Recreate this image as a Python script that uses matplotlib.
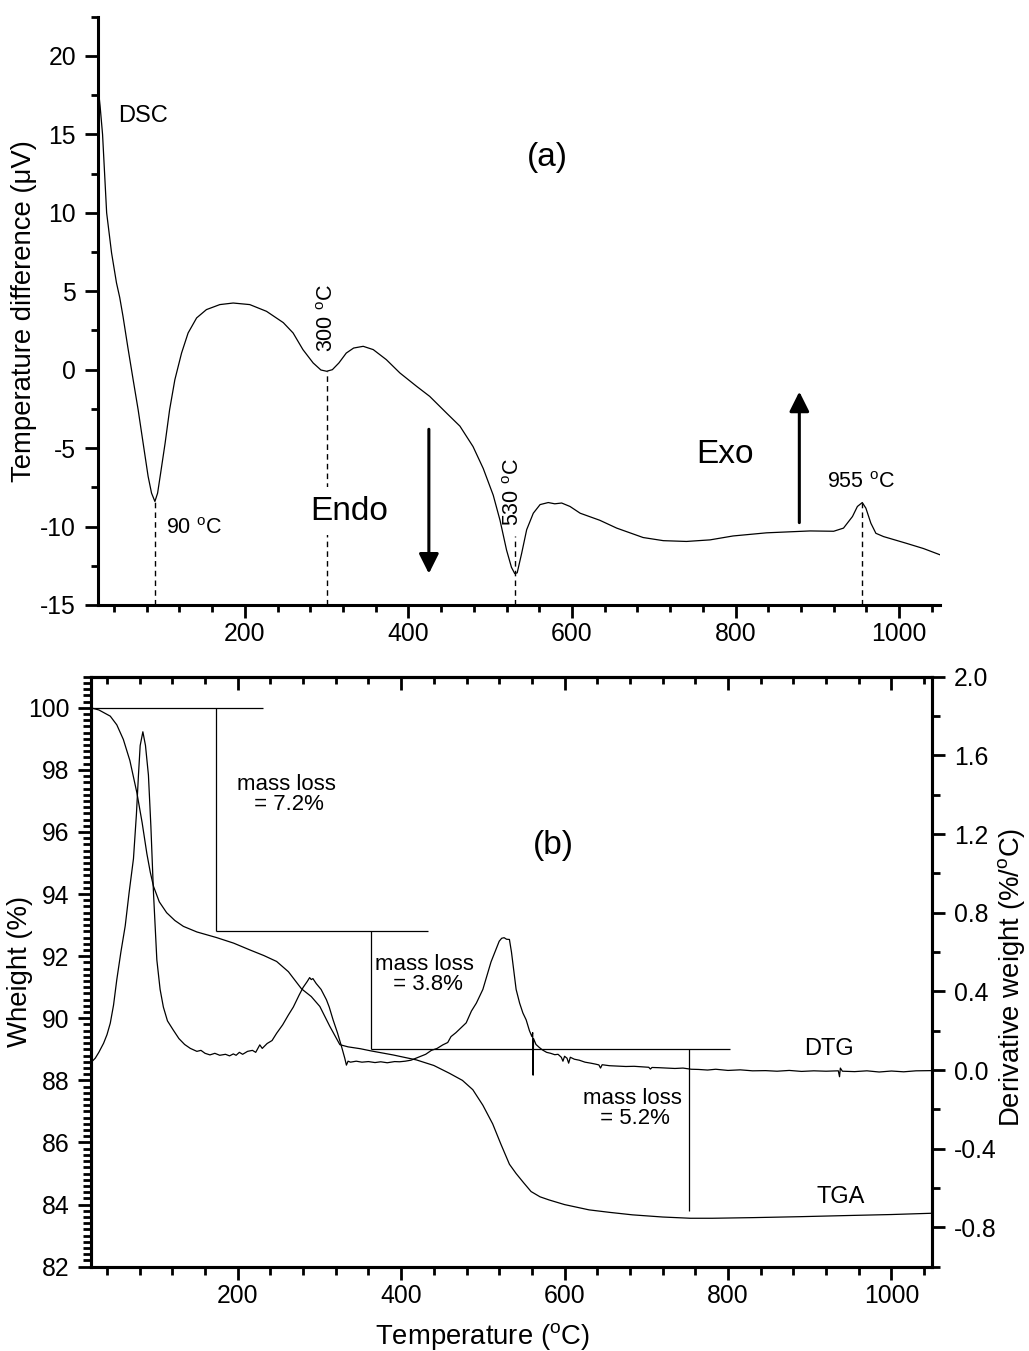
import matplotlib
matplotlib.use("Agg")
import matplotlib.pyplot as plt
from matplotlib.ticker import MultipleLocator, FixedLocator, FormatStrFormatter

plt.rcParams.update({
    "font.family": ["Liberation Sans", "DejaVu Sans"],
    "mathtext.fontset": "custom",
    "mathtext.rm": "Liberation Sans",
    "mathtext.it": "Liberation Sans",
    "mathtext.bf": "Liberation Sans",
    "mathtext.default": "regular",
    "axes.unicode_minus": False,
})

# ---------------- DSC curve (panel a) ----------------
dsc_T = [20, 23, 26, 31, 37, 43, 47, 51, 57, 63.4, 69.5, 75.6, 81.7, 85.9, 90, 93.3,
         97, 102.5, 108, 114.4, 122.6, 130.6, 141, 153, 169.4, 185.7, 206, 226.5,
         247, 259, 271, 283.5, 293, 300, 307, 315, 324, 333, 344.7, 357, 373, 389.6,
         410, 426, 446.7, 463, 479, 491.5, 503.7, 512, 520, 526, 530, 533, 538.5,
         544.6, 552.7, 561, 571, 579, 587.4, 597.6, 610, 626, 634, 654.7, 687, 711.7,
         740, 768.8, 797, 838, 891, 920, 932, 943, 949, 955, 959.4, 965.5, 971.6,
         981, 1009, 1029.7, 1050]
dsc_V = [18.3, 16.8, 15.0, 10.0, 7.45, 5.54, 4.6, 3.4, 1.4, -0.64, -2.55, -4.68, -6.8,
         -7.87, -8.4, -7.87, -6.6, -4.68, -2.55, -0.64, 1.06, 2.34, 3.3, 3.83, 4.15,
         4.25, 4.15, 3.72, 3.0, 2.34, 1.28, 0.43, -0.02, -0.1, 0.0, 0.43, 1.06, 1.38,
         1.49, 1.28, 0.64, -0.21, -1.06, -1.7, -2.77, -3.6, -4.9, -6.3, -8.0, -9.6,
         -11.5, -12.6, -13.0, -12.95, -11.7, -10.2, -9.15, -8.6, -8.47, -8.55, -8.5,
         -8.72, -9.15, -9.45, -9.6, -10.1, -10.7, -10.9, -10.95, -10.85, -10.6, -10.4,
         -10.28, -10.3, -10.1, -9.36, -8.72, -8.47, -8.83, -9.79, -10.43, -10.64,
         -11.07, -11.4, -11.8]

# characteristic temperatures and the top of each marker line
peak_T = [90, 300, 530, 955]
peak_top = [-8.4, -0.1, -10.6, -8.47]
peak_labels = ["90 $^{o}$C", "300 $^{o}$C", "530 $^{o}$C", "955 $^{o}$C"]

# ---------------- TGA curve (panel b, left axis) ----------------
tga_T = [20, 30, 44, 52, 60, 68, 76.6, 83, 88.8, 93, 96.9, 104, 113, 123, 133.5,
         150, 174, 195, 215, 232, 247.6, 262, 278, 290, 300.5, 312.7, 325, 335, 350,
         363, 390, 418.6, 440, 459, 475, 487.7, 500, 512, 522, 532.5, 540.7, 550,
         559, 570, 581, 600, 630, 655, 683, 720, 754, 781, 830, 887, 950, 1000, 1048]
tga_W = [100, 99.93, 99.73, 99.45, 98.98, 98.3, 97.26, 96.3, 95.3, 94.7, 94.25,
         93.75, 93.4, 93.15, 92.96, 92.78, 92.6, 92.42, 92.2, 92.02, 91.83, 91.5,
         90.95, 90.7, 90.38, 89.74, 89.15, 89.08, 89.02, 88.95, 88.82, 88.66, 88.48,
         88.23, 88.0, 87.7, 87.2, 86.6, 85.95, 85.3, 85.0, 84.7, 84.42, 84.25, 84.15,
         84.0, 83.83, 83.75, 83.67, 83.6, 83.56, 83.56, 83.58, 83.61, 83.65, 83.68,
         83.72]

# ---------------- DTG curve (panel b, right axis) ----------------
dtg_T = [20, 22, 25.6, 30, 35.8, 40, 44, 48, 52, 57, 62.3, 67, 72.4, 76, 78.5,
         80.6, 83.9, 87.1, 90.7, 93.7, 96.9, 101, 105, 109, 114, 121, 128, 135, 142,
         150, 155, 160, 166, 172, 178, 185, 190, 194.6, 198, 202, 206, 212, 218, 222,
         227, 230, 236, 242, 247.6, 255, 262, 268, 275, 280, 285, 288, 290, 292, 296,
         302, 308.6, 312, 316.7, 322, 327, 331, 333, 335, 338, 345, 352, 360, 368,
         375, 383, 392, 398, 405, 412, 418, 422.6, 430, 437, 444, 451, 457, 461, 467,
         472, 479.6, 486, 492, 500, 505, 510, 516, 520, 523, 526, 529, 532.5, 535,
         538, 540.7, 545, 549, 553, 557, 560, 561, 561.5, 562, 565, 569, 573, 578,
         583, 588, 592, 596, 598, 600, 603, 605, 607, 612, 618, 625, 632, 638, 642,
         644, 646, 655, 665, 675, 685, 695, 703, 705, 707, 715, 725, 735, 745, 755,
         764, 775, 785, 800, 815, 830, 846, 860, 875, 890, 905, 920, 935, 936.5,
         937.5, 940, 955, 970, 985, 1000, 1015, 1030, 1048]
dtg_D = [0.017, 0.045, 0.06, 0.09, 0.136, 0.18, 0.238, 0.33, 0.46, 0.6, 0.733, 0.9,
         1.075, 1.3, 1.5, 1.65, 1.72, 1.65, 1.5, 1.24, 0.9, 0.56, 0.41, 0.32, 0.25,
         0.204, 0.16, 0.13, 0.11, 0.095, 0.1, 0.085, 0.077, 0.085, 0.075, 0.08, 0.072,
         0.082, 0.075, 0.09, 0.08, 0.095, 0.1, 0.09, 0.128, 0.11, 0.135, 0.15, 0.187,
         0.23, 0.28, 0.32, 0.38, 0.42, 0.45, 0.47, 0.46, 0.465, 0.44, 0.41, 0.357,
         0.32, 0.255, 0.19, 0.12, 0.06, 0.025, 0.045, 0.04, 0.045, 0.04, 0.043, 0.038,
         0.042, 0.037, 0.043, 0.042, 0.045, 0.05, 0.06, 0.068, 0.08, 0.1, 0.11, 0.128,
         0.14, 0.17, 0.19, 0.21, 0.24, 0.3, 0.34, 0.41, 0.48, 0.55, 0.613, 0.655, 0.67,
         0.673, 0.665, 0.664, 0.6, 0.5, 0.41, 0.34, 0.29, 0.255, 0.2, 0.17, 0.19,
         -0.026, 0.16, 0.13, 0.115, 0.102, 0.09, 0.085, 0.078, 0.08, 0.065, 0.045,
         0.07, 0.06, 0.035, 0.065, 0.055, 0.05, 0.04, 0.035, 0.03, 0.026, 0.01, 0.027,
         0.022, 0.02, 0.018, 0.019, 0.016, 0.014, 0.005, 0.013, 0.012, 0.01, 0.008,
         0.01, 0.004, 0.003, 0.0, 0.004, -0.002, 0.001, -0.004, -0.003, -0.006,
         -0.002, -0.007, -0.004, -0.006, -0.004, -0.034, 0.01, -0.006, -0.008,
         -0.004, -0.01, -0.005, -0.009, -0.004, -0.003]

# ---------------- mass-loss steps ----------------
loss_T = [174, 363, 752]
loss_pct = [7.2, 3.8, 5.2]
loss_line_start = [20, 174, 363]
loss_line_end = [231, 433, 802]
loss_label_xy = [(259, 97.2), (429, 91.4), (683, 87.1)]

y_right_ticks = [-0.8, -0.4, 0.0, 0.4, 0.8, 1.2, 1.6, 2.0]

TICK_FS = 17.8
LABEL_FS = 19.8
SPINE_W = 2.2

fig = plt.figure(figsize=(10.29, 13.51), dpi=100)

# ================= panel (a) =================
ax1 = fig.add_axes([0.0949, 0.5522, 0.8186, 0.4354])
ax1.plot(dsc_T, dsc_V, color="black", lw=0.9)
ax1.set_xlim(20, 1050)
ax1.set_ylim(-15, 22.5)
for s in ("top", "right"):
    ax1.spines[s].set_visible(False)
for s in ("left", "bottom"):
    ax1.spines[s].set_linewidth(SPINE_W)
ax1.xaxis.set_major_locator(MultipleLocator(200))
ax1.xaxis.set_minor_locator(MultipleLocator(40))
ax1.yaxis.set_major_locator(MultipleLocator(5))
ax1.yaxis.set_minor_locator(MultipleLocator(2.5))
ax1.tick_params(which="both", direction="out", width=2, labelsize=TICK_FS)
ax1.tick_params(which="major", length=9.5)
ax1.tick_params(which="minor", length=5)
ax1.tick_params(axis="x", pad=3)
ax1.tick_params(axis="y", pad=6)
ax1.set_ylabel("Temperature difference (μV)", fontsize=LABEL_FS)
ax1.yaxis.set_label_coords(-0.072, 0.5)

ax1.vlines(peak_T, -15, peak_top, colors="black", linestyles=(0, (4, 3)), lw=1.0, zorder=2)

ax1.text(peak_T[0] + 13, -10.5, peak_labels[0], fontsize=15.5, ha="left", va="baseline")
ax1.text(peak_T[1] + 1.5, 3.3, peak_labels[1], fontsize=15.5, rotation=90, ha="center", va="center")
ax1.text(peak_T[2] - 1, -7.8, peak_labels[2], fontsize=15.5, rotation=90, ha="center", va="center")
ax1.text(peak_T[3] - 2, -7.55, peak_labels[3], fontsize=15.5, ha="center", va="baseline")

ax1.text(44.6, 15.8, "DSC", fontsize=17, ha="left", va="baseline")
ax1.text(570, 13.5, "(a)", fontsize=24, ha="center", va="center")
ax1.text(327, -9.57, "Endo", fontsize=24, ha="center", va="baseline", zorder=4,
         bbox=dict(facecolor="white", edgecolor="none", pad=6))
ax1.text(787, -5.95, "Exo", fontsize=24, ha="center", va="baseline")

arrow_style = "-|>,head_length=0.6,head_width=0.3"
ax1.annotate("", xy=(425, -13.0), xytext=(425, -3.8),
             arrowprops=dict(arrowstyle=arrow_style, mutation_scale=20, lw=2.2,
                             color="black", shrinkA=0, shrinkB=0))
ax1.annotate("", xy=(878, -1.4), xytext=(878, -9.75),
             arrowprops=dict(arrowstyle=arrow_style, mutation_scale=20, lw=2.2,
                             color="black", shrinkA=0, shrinkB=0))

# ================= panel (b) =================
ax2 = fig.add_axes([0.0881, 0.0624, 0.8179, 0.4367])
ax3 = ax2.twinx()

ax2.plot(tga_T, tga_W, color="black", lw=0.9)
ax3.plot(dtg_T, dtg_D, color="black", lw=0.9)

ax2.set_xlim(20, 1050)
ax2.set_ylim(82, 101)
ax3.set_ylim(-1.0, 2.0)

for a in (ax2, ax3):
    for s in a.spines.values():
        s.set_linewidth(SPINE_W)

ax2.xaxis.set_major_locator(MultipleLocator(200))
ax2.xaxis.set_minor_locator(MultipleLocator(40))
ax2.yaxis.set_major_locator(MultipleLocator(2))
ax2.yaxis.set_minor_locator(MultipleLocator(0.2))
ax2.tick_params(which="both", direction="out", width=2, labelsize=TICK_FS)
ax2.tick_params(which="major", length=9.5)
ax2.tick_params(which="minor", length=5.5)
ax2.tick_params(axis="x", pad=3)
ax2.tick_params(axis="y", pad=6)

top = ax2.secondary_xaxis("top")
top.xaxis.set_major_locator(MultipleLocator(200))
top.xaxis.set_minor_locator(MultipleLocator(40))
top.tick_params(which="both", direction="in", width=2, labeltop=False)
top.tick_params(which="major", length=9.5)
top.tick_params(which="minor", length=5)
top.spines["top"].set_linewidth(SPINE_W)

ax3.yaxis.set_major_locator(FixedLocator(y_right_ticks))
ax3.yaxis.set_major_formatter(FormatStrFormatter("%.1f"))
ax3.yaxis.set_minor_locator(MultipleLocator(0.2))
ax3.tick_params(which="both", direction="out", width=2, labelsize=TICK_FS, pad=6)
ax3.tick_params(which="major", length=9.5)
ax3.tick_params(which="minor", length=5.5)

ax2.set_xlabel("Temperature ($^{o}$C)", fontsize=LABEL_FS)
ax2.xaxis.set_label_coords(0.466, -0.092)
ax2.set_ylabel("Wheight (%)", fontsize=LABEL_FS)
ax2.yaxis.set_label_coords(-0.0686, 0.5)
ax3.set_ylabel("Derivative weight (%/$^{o}$C)", fontsize=LABEL_FS)
ax3.yaxis.set_label_coords(1.076, 0.49)

# mass-loss construction lines, each step sized by its stated loss
level = 100.0
for xv, pct, x0, x1, (lx, ly) in zip(loss_T, loss_pct, loss_line_start,
                                      loss_line_end, loss_label_xy):
    ax2.hlines(level, x0, x1, colors="black", lw=0.9)
    ax2.vlines(xv, level - pct, level, colors="black", lw=0.9)
    ax2.text(lx, ly, "mass loss\n = %.1f%%" % pct, fontsize=16, ha="center",
             va="center", multialignment="center", linespacing=0.95)
    level -= pct

ax2.text(586.5, 95.55, "(b)", fontsize=24, ha="center", va="center")
ax2.text(923, 89.0, "DTG", fontsize=17, ha="center", va="center")
ax2.text(938, 84.23, "TGA", fontsize=17, ha="center", va="center")

fig.savefig("out.png", dpi=100)
